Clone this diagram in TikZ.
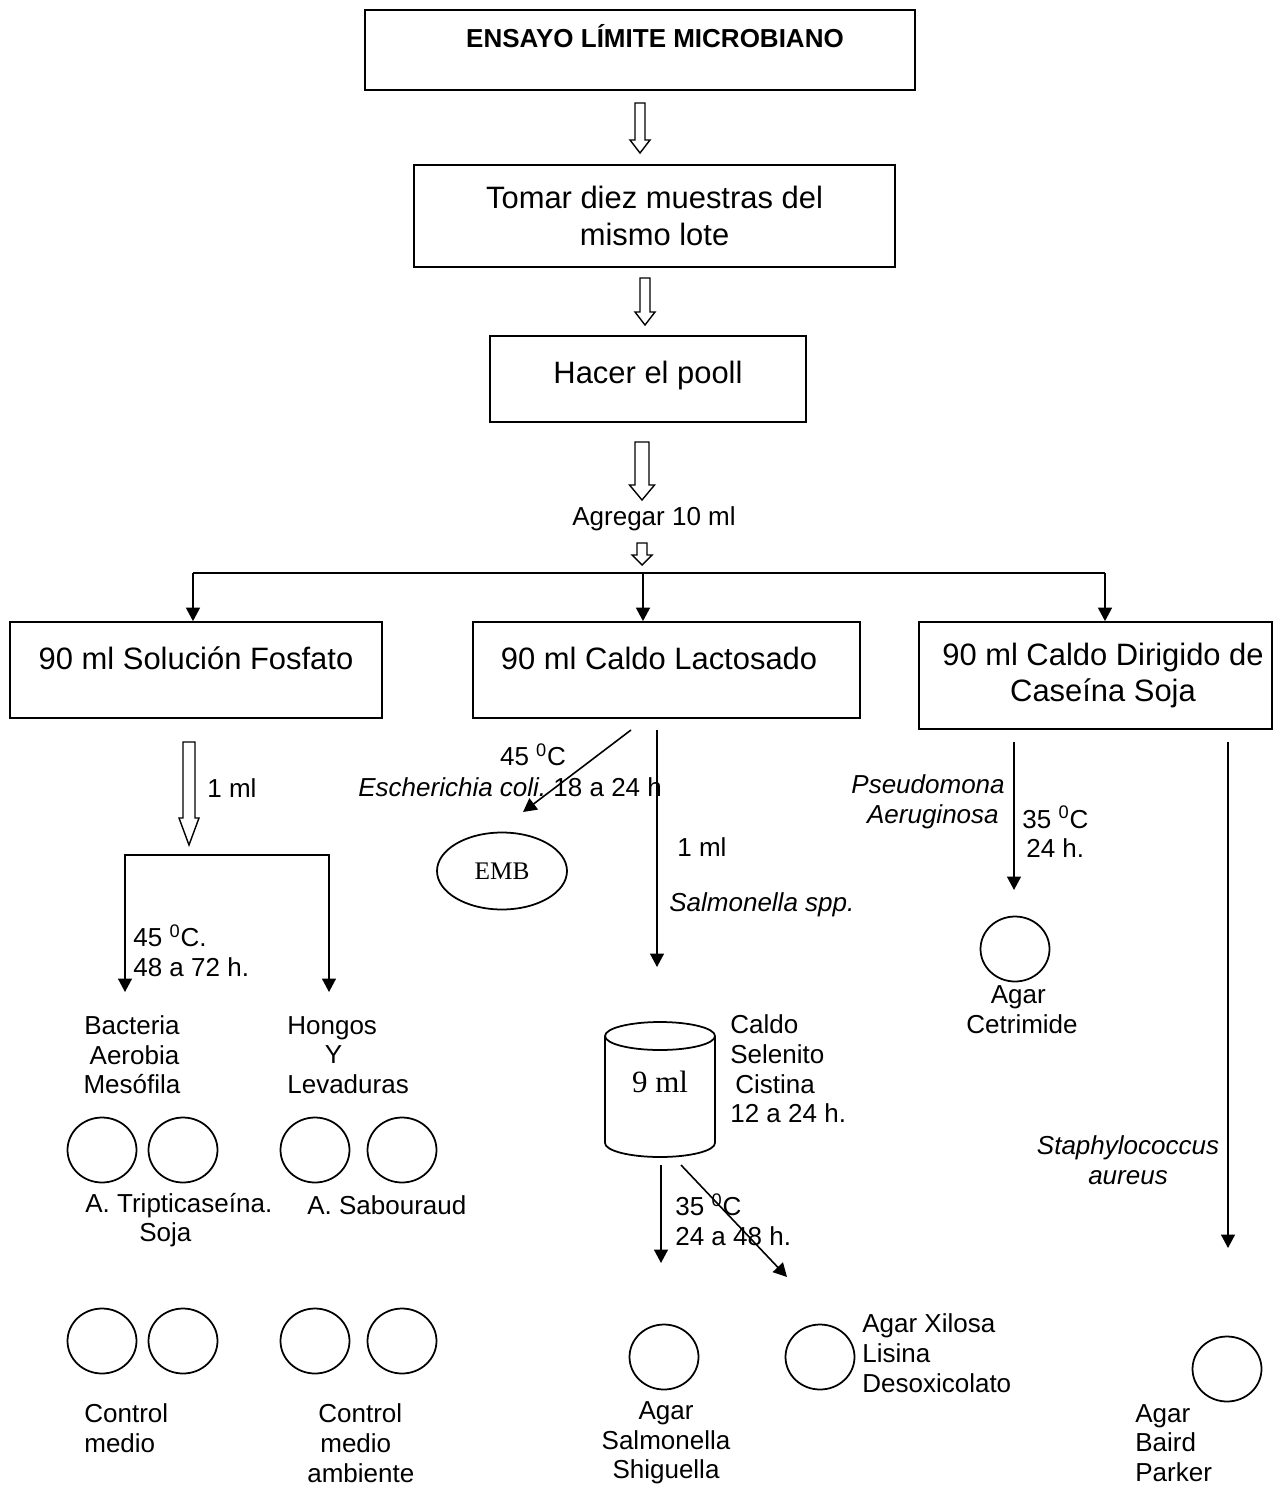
\documentclass[tikz,border=0pt]{standalone}
\usepackage{fontspec}
\setmainfont{Liberation Sans}
\newfontfamily\serifrm{Liberation Serif}
\usetikzlibrary{arrows.meta,shapes.geometric}
\newcommand\szS{\fontsize{14.8pt}{16.9pt}\selectfont}
\newcommand\szL{\fontsize{17.6pt}{21pt}\selectfont}
% x, ytop, yhead, shaft half width, head half width, ytip
\newcommand\blockarrow[6]{\draw[hollow] (#1-#4,#2) -- (#1+#4,#2) -- (#1+#4,#3) -- (#1+#5,#3) -- (#1,#6) -- (#1-#5,#3) -- (#1-#4,#3) -- cycle;}
\begin{document}
\begin{tikzpicture}[x=0.02cm,y=-0.02cm,
  box/.style={draw, line width=1pt, inner sep=0, align=center},
  txt/.style={inner sep=0, font=\szS},
  arr/.style={line width=0.9pt, -{Triangle[length=0.27cm,width=0.28cm]}},
  arrboth/.style={line width=0.9pt, {Triangle[length=0.27cm,width=0.28cm]}-{Triangle[length=0.27cm,width=0.28cm]}},
  hollow/.style={draw, line width=0.8pt, fill=white},
  plate/.style={draw, ellipse, line width=1pt, minimum width=1.38cm, minimum height=1.3cm, inner sep=0},
]
\useasboundingbox (0,0) rectangle (1279,1486);

% ---- top boxes
\node[box, minimum width=11cm, minimum height=1.6cm, font=\szS\bfseries, text height=0.374cm, text depth=0.48cm] (b1) at (640,50) {\hspace*{0.6cm}ENSAYO LÍMITE MICROBIANO};
\node[box, minimum width=9.62cm, minimum height=2.04cm, font=\szL] (b2) at (654.5,216) {Tomar diez muestras del\\mismo lote};
\node[box, minimum width=6.32cm, minimum height=1.72cm, font=\szL, text height=0.446cm, text depth=0.28cm] (b3) at (648,379) {Hacer el pooll};

\blockarrow{640}{103}{140}{5}{10}{153}
\blockarrow{645}{278}{312}{5}{10}{325}
\blockarrow{642}{442}{485}{7}{12.5}{500}
\node[txt] (agr) at (654,519) {Agregar 10 ml};
\blockarrow{642}{543}{555}{5}{10}{565}

% ---- three branch boxes
\node[box, minimum width=7.44cm, minimum height=1.92cm, font=\szL, text height=0.446cm, text depth=0.48cm] (bA) at (196,670) {90 ml Solución Fosfato};
\node[box, minimum width=7.74cm, minimum height=1.92cm, font=\szL, text height=0.446cm, text depth=0.48cm] (bB) at (666.5,670) {90 ml Caldo Lactosado\hspace*{0.3cm}};
\node[box, minimum width=7.06cm, minimum height=2.14cm, font=\szL] (bC) at (1095.5,675.5) {\hspace*{0.3cm}90 ml Caldo Dirigido de\\\hspace*{0.3cm}Caseína Soja};

\coordinate (hl) at (193,573);
\coordinate (hm) at (643,573);
\coordinate (hr) at (1105,573);
\draw[line width=0.9pt] (hl) -- (hr);
\draw[arr] (hl) -- (hl |- bA.north);
\draw[arr] (hm) -- (hm |- bB.north);
\draw[arr] (hr) -- (hr |- bC.north);

% ---- left branch
\blockarrow{189}{742}{818}{6}{10}{845}
\node[txt, anchor=west] (ml1) at (207,788) {1 ml};
\coordinate (la) at (125,992);
\coordinate (lb) at (125,855);
\coordinate (lc) at (329,855);
\coordinate (ld) at (329,992);
\draw[arrboth] (la) -- (lb) -- (lc) -- (ld);
\node[txt, anchor=west, align=left] (t45) at (133,951) {45 \textsuperscript{0}C.\\48 a 72 h.};

\node[txt, align=center] (bact) at (132,1055) {Bacteria\\\hspace*{0.1cm}Aerobia\\Mesófila};
\node[txt, anchor=west, align=left] (hong) at (287,1055) {Hongos\\\hspace*{0.75cm}Y\\Levaduras};

\node[plate] (p1) at (102,1150) {};
\node[plate] (p2) at (183,1150) {};
\node[plate] (p3) at (315,1150) {};
\node[plate] (p4) at (402,1150) {};
\node[txt, anchor=west, align=left] (tsoja) at (85,1220) {A. Tripticaseína.\\\hspace*{1.08cm}Soja};
\node[txt, anchor=west] (tsab) at (307,1205) {A. Sabouraud};

\node[plate] (p5) at (102,1341) {};
\node[plate] (p6) at (183,1341) {};
\node[plate] (p7) at (315,1341) {};
\node[plate] (p8) at (402,1341) {};
\node[txt, anchor=west, align=left] (cm) at (84,1428) {Control\\medio};
\node[txt, anchor=west, align=left] (cma) at (307,1443) {\hspace*{0.22cm}Control\\\hspace*{0.26cm}medio\\ambiente};

% ---- middle branch
\coordinate (e1) at (631,730);
\coordinate (e2) at (523,812);
\draw[arr] (e1) -- (e2);
\node[txt] (t45b) at (533,755) {45 \textsuperscript{0}C};
\node[txt, anchor=west] (ecoli) at (358,787) {\itshape Escherichia coli.\upshape\ 18 a 24 h};
\node[draw, ellipse, line width=1pt, minimum width=2.6cm, minimum height=1.54cm, inner sep=0, font=\serifrm\fontsize{14.4pt}{17pt}\selectfont] (emb) at (502,871) {EMB};

\coordinate (s1) at (657,730);
\coordinate (s2) at (657,967);
\draw[arr] (s1) -- (s2);
\node[txt, anchor=west] (ml2) at (677,847) {1 ml};
\node[txt, anchor=west] (salm) at (669,905) {\itshape Salmonella spp.};

% cylinder
\draw[line width=1pt] (660,1036) ellipse [x radius=1.1cm, y radius=0.28cm];
\draw[line width=1pt] (605,1036) -- (605,1143) arc[start angle=180, end angle=360, x radius=1.1cm, y radius=0.28cm] -- (715,1036);
\node[inner sep=0, font=\serifrm\fontsize{17.6pt}{21pt}\selectfont] (cyl) at (660,1082) {9 ml};
\node[txt, anchor=west, align=left] (csc) at (730,1069) {Caldo\\Selenito\\\hspace*{0.1cm}Cistina\\12 a 24 h.};

\coordinate (c1) at (661,1165);
\coordinate (c2) at (661,1263);
\coordinate (c3) at (681,1165);
\coordinate (c4) at (787,1277);
\draw[arr] (c1) -- (c2);
\draw[arr] (c3) -- (c4);
\node[txt, anchor=west, align=left] (t35b) at (675,1220) {35 \textsuperscript{0}C\\24 a 48 h.};

\node[plate] (pss) at (664,1357) {};
\node[txt, align=center] (tss) at (666,1443) {Agar\\Salmonella\\Shiguella};
\node[plate] (pxld) at (820,1357) {};
\node[txt, anchor=west, align=left] (txld) at (862,1353) {Agar Xilosa\\Lisina\\Desoxicolato};

% ---- right branch
\coordinate (r1) at (1014,742);
\coordinate (r2) at (1014,890);
\draw[arr] (r1) -- (r2);
\node[txt, anchor=east, align=right] (pseu) at (1005,802) {\itshape Pseudomona\\\itshape Aeruginosa\hspace*{0.12cm}};
\node[txt, anchor=west, align=left] (t35c) at (1022,832) {35 \textsuperscript{0}C\\\hspace*{0.08cm}24 h.};
\node[plate] (pcet) at (1015,949) {};
\node[txt, align=center] (tcet) at (1022,1010) {\hspace*{-0.15cm}Agar\\Cetrimide};

\coordinate (q1) at (1228,742);
\coordinate (q2) at (1228,1248);
\draw[arr] (q1) -- (q2);
\node[txt, align=center] (staph) at (1128,1160) {\itshape Staphylococcus\\\itshape aureus};
\node[plate] (pbp) at (1227,1369) {};
\node[txt, anchor=west, align=left] (tbp) at (1135,1443) {Agar\\Baird\\Parker};
\end{tikzpicture}
\end{document}
